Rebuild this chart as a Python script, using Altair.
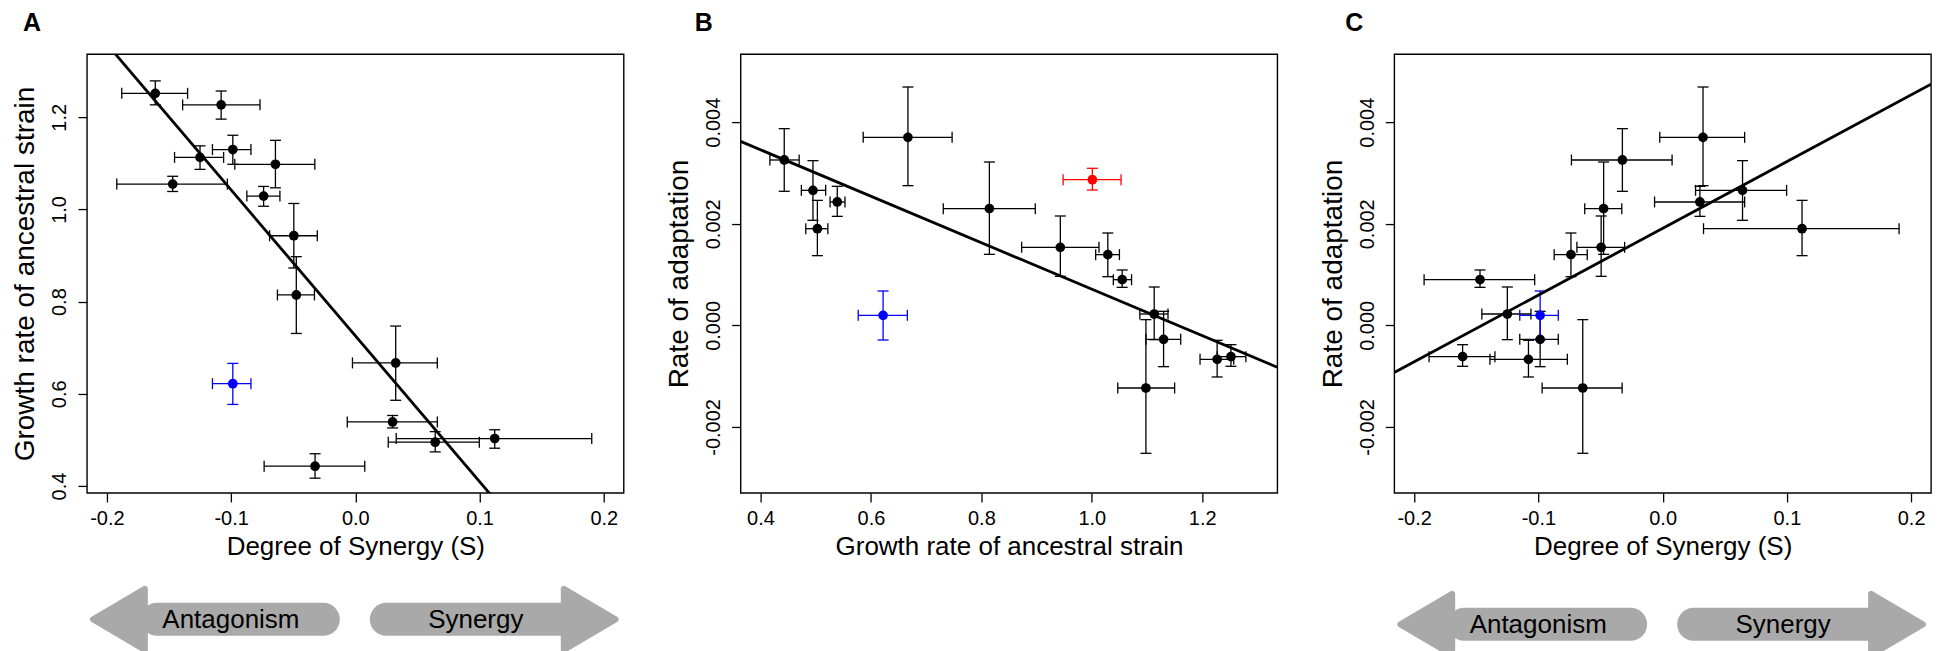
import altair as alt
import pandas as pd

# ---------------- data ----------------
group = ["main"] * 14 + ["blue", "red"]

synergy = [-0.161, -0.108, -0.0986, -0.125, -0.0643, -0.147, -0.0738, -0.0495,
           -0.0475, 0.0325, 0.030, 0.0643, 0.1122, -0.0324, -0.0986, None]
synergy_lo = [-0.188, -0.139, -0.115, -0.1455, -0.097, -0.192, -0.0873, -0.069,
              -0.0627, -0.0023, -0.0065, 0.0265, 0.0329, -0.0734, -0.115, None]
synergy_hi = [-0.135, -0.0767, -0.084, -0.106, -0.0326, -0.103, -0.0607, -0.0306,
              -0.0329, 0.066, 0.066, 0.0998, 0.1903, 0.0076, -0.084, None]

growth = [1.252, 1.227, 1.130, 1.113, 1.098, 1.055, 1.029, 0.943,
          0.8145, 0.667, 0.539, 0.495, 0.503, 0.443, 0.622, 1.001]
growth_lo = [1.227, 1.196, 1.098, 1.087, 1.047, 1.039, 1.007, 0.873,
             0.731, 0.586, 0.526, 0.474, 0.482, 0.417, 0.577, 0.948]
growth_hi = [1.279, 1.257, 1.161, 1.138, 1.150, 1.072, 1.050, 1.013,
             0.8976, 0.747, 0.553, 0.518, 0.522, 0.470, 0.666, 1.053]

rate = [-0.000617, -0.000670, -0.000276, 0.000223, -0.001234, 0.000899, 0.001392, 0.001536,
        0.002297, 0.003702, 0.002429, 0.002658, 0.001903, 0.003256, 0.000197, 0.002868]
rate_lo = [-0.000807, -0.001017, -0.000814, -0.000282, -0.002520, 0.000748, 0.000958, 0.000965,
           0.001398, 0.002750, 0.002146, 0.002068, 0.001372, 0.002639, -0.000289, 0.002665]
rate_hi = [-0.000381, -0.000295, 0.000276, 0.000755, 0.000112, 0.001090, 0.001818, 0.002153,
           0.003216, 0.004693, 0.002737, 0.003243, 0.002461, 0.003873, 0.000676, 0.003092]

# fitted regression lines (intercept, slope)
fit_a = (0.726, -3.165)
fit_b = (0.005288, -0.004577)
fit_c = (0.00191, 0.01314)

df = pd.DataFrame({
    "group": group,
    "S": synergy, "S_lo": synergy_lo, "S_hi": synergy_hi,
    "G": growth, "G_lo": growth_lo, "G_hi": growth_hi,
    "R": rate, "R_lo": rate_lo, "R_hi": rate_hi,
})

# ---------------- styling ----------------
FONT = "Liberation Sans"
GRAY = "#a9a9a9"
W, H = 537, 439

color_scale = alt.Scale(domain=["main", "blue", "red"], range=["black", "#0000ff", "#ff0000"])


def fmt_expr(spec):
    return (f"datum.value < 0 ? '-' + format(-datum.value, '{spec}') "
            f": format(datum.value, '{spec}')")


def arrows(dy):
    one = alt.Data(values=[{}])
    yc = 565.5 + dy
    left_path = "M-0.85,0L0.85,-1L0.85,1Z"
    right_path = "M0.85,0L-0.85,-1L-0.85,1Z"
    layers = [
        alt.Chart(one).mark_rule(strokeWidth=33, strokeCap="round", color=GRAY).encode(
            x=alt.value(70), x2=alt.value(236.5), y=alt.value(yc)),
        alt.Chart(one).mark_rule(strokeWidth=33, strokeCap="round", color=GRAY).encode(
            x=alt.value(299.5), x2=alt.value(480), y=alt.value(yc)),
        alt.Chart(one).mark_point(shape=left_path, size=3721, filled=True, fill=GRAY,
                                  stroke=GRAY, strokeWidth=6, strokeJoin="round",
                                  opacity=1).encode(x=alt.value(32), y=alt.value(yc)),
        alt.Chart(one).mark_point(shape=right_path, size=3721, filled=True, fill=GRAY,
                                  stroke=GRAY, strokeWidth=6, strokeJoin="round",
                                  opacity=1).encode(x=alt.value(503), y=alt.value(yc)),
        alt.Chart(one).mark_text(text="Antagonism", font=FONT, fontSize=26, color="black",
                                 align="center", baseline="alphabetic").encode(
            x=alt.value(144), y=alt.value(574 + dy)),
        alt.Chart(one).mark_text(text="Synergy", font=FONT, fontSize=26, color="black",
                                 align="center", baseline="alphabetic").encode(
            x=alt.value(389), y=alt.value(574 + dy)),
    ]
    return layers


def panel(xf, yf, xdom, ydom, xticks, yticks, xfmt, yfmt, xtitle, ytitle,
          fit, letter, letter_x, need_s, arrow_dy=None):
    xscale = alt.Scale(domain=xdom, nice=False, zero=False)
    yscale = alt.Scale(domain=ydom, nice=False, zero=False)
    xaxis = alt.Axis(values=xticks, labelExpr=fmt_expr(xfmt), labelPadding=7,
                     titleY=62, titleBaseline="alphabetic", titleAlign="center",
                     titleFontSize=26)
    yaxis = alt.Axis(values=yticks, labelExpr=fmt_expr(yfmt), labelAngle=270,
                     labelAlign="center", labelBaseline="alphabetic", labelPadding=12,
                     titleAngle=270, titleX=-53, titleY=H / 2, titleAlign="center",
                     titleBaseline="alphabetic")

    def X(f):
        return alt.X(f, type="quantitative", scale=xscale, axis=xaxis, title=xtitle)

    def Y(f):
        return alt.Y(f, type="quantitative", scale=yscale, axis=yaxis, title=ytitle)

    col = alt.Color("group:N", scale=color_scale, legend=None)
    base = alt.Chart(df)
    if need_s:
        base = base.transform_filter("isValid(datum.S)")

    xlo, xhi = xf + "_lo", xf + "_hi"
    ylo, yhi = yf + "_lo", yf + "_hi"
    sw = 1.3
    hbar = base.mark_rule(strokeWidth=sw).encode(x=X(xlo), x2=alt.X2(xhi), y=Y(yf), color=col)
    hcap1 = base.mark_tick(orient="vertical", size=11, thickness=sw, opacity=1).encode(
        x=X(xlo), y=Y(yf), color=col)
    hcap2 = base.mark_tick(orient="vertical", size=11, thickness=sw, opacity=1).encode(
        x=X(xhi), y=Y(yf), color=col)
    vbar = base.mark_rule(strokeWidth=sw).encode(x=X(xf), y=Y(ylo), y2=alt.Y2(yhi), color=col)
    vcap1 = base.mark_tick(orient="horizontal", size=11, thickness=sw, opacity=1).encode(
        x=X(xf), y=Y(ylo), color=col)
    vcap2 = base.mark_tick(orient="horizontal", size=11, thickness=sw, opacity=1).encode(
        x=X(xf), y=Y(yhi), color=col)
    pts = base.mark_circle(size=95, opacity=1).encode(x=X(xf), y=Y(yf), color=col)

    a, b = fit
    line_vals = [{"lx": x, "ly": a + b * x} for x in xdom]
    line = alt.Chart(alt.Data(values=line_vals)).mark_line(
        color="black", strokeWidth=2.8, clip=True).encode(x=X("lx"), y=Y("ly"))

    lab = alt.Chart(alt.Data(values=[{}])).mark_text(
        text=letter, font=FONT, fontSize=25, fontWeight="bold", color="black",
        align="left", baseline="alphabetic").encode(x=alt.value(letter_x), y=alt.value(-23))

    layers = [hbar, hcap1, hcap2, vbar, vcap1, vcap2, line, pts, lab]
    if arrow_dy is not None:
        layers += arrows(arrow_dy)
    return alt.layer(*layers).properties(width=W, height=H)


s_dom = [-0.216, 0.216]
s_ticks = [-0.2, -0.1, 0.0, 0.1, 0.2]
g_ticks = [0.4, 0.6, 0.8, 1.0, 1.2]
r_dom = [-0.0033, 0.00534]
r_ticks = [-0.002, 0.0, 0.002, 0.004]

pA = panel("S", "G", s_dom, [0.385, 1.337], s_ticks, g_ticks, ".1f", ".1f",
           "Degree of Synergy (S)", "Growth rate of ancestral strain",
           fit_a, "A", -64, True, arrow_dy=0)
pB = panel("G", "R", [0.364, 1.336], r_dom, g_ticks, r_ticks, ".1f", ".3f",
           "Growth rate of ancestral strain", "Rate of adaptation",
           fit_b, "B", -46, False)
pC = panel("S", "R", s_dom, r_dom, s_ticks, r_ticks, ".1f", ".3f",
           "Degree of Synergy (S)", "Rate of adaptation",
           fit_c, "C", -49, True, arrow_dy=5)

chart = alt.hconcat(pA, pB, pC, spacing=117, bounds="flush").properties(
    padding={"left": 3, "top": 2, "right": 0, "bottom": 0}
).configure_view(stroke="black", strokeWidth=1.4).configure_axis(
    grid=False, domain=False, ticks=True, tickColor="black", tickSize=9, tickWidth=1.3,
    labelFont=FONT, labelFontSize=20, labelColor="black",
    titleFont=FONT, titleFontSize=28, titleFontWeight="normal", titleColor="black",
    labelFlush=False, labelOverlap=False,
)

chart.save("out.html", embed_options={"renderer": "svg", "actions": False})
